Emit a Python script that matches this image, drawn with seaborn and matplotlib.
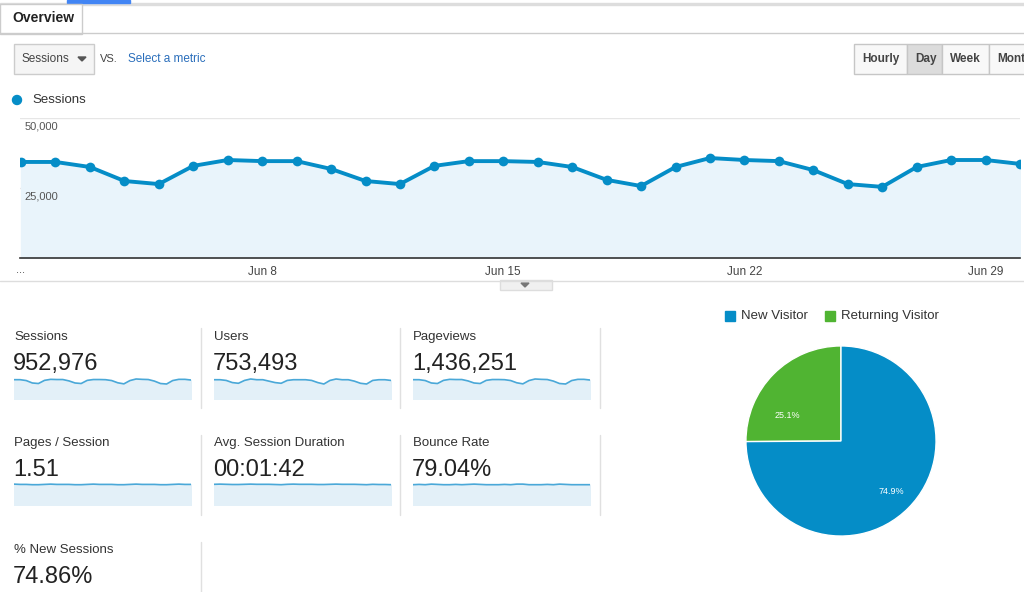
import matplotlib
matplotlib.use("Agg")
import matplotlib.pyplot as plt
import seaborn as sns
import numpy as np
import pandas as pd
from matplotlib.patches import Rectangle, Circle

sns.set_theme(style="white")
plt.rcParams['font.family'] = ['Liberation Sans', 'DejaVu Sans']

days = list(range(1, 31))
sessions = [34300, 34300, 32500, 27500, 26400, 32900, 35000, 34600, 34600, 31800,
            27500, 26400, 32900, 34600, 34600, 34300, 32500, 27900, 25700, 32500,
            35700, 35000, 34600, 31400, 26400, 25400, 32500, 35000, 35000, 33600]
tick_days = [8, 15, 22, 29]
tick_labels = ["Jun 8", "Jun 15", "Jun 22", "Jun 29"]
y_ticks = [25000, 50000]
y_labels = ["25,000", "50,000"]

metric_names = ["Sessions", "Users", "Pageviews", "Pages / Session",
                "Avg. Session Duration", "Bounce Rate", "% New Sessions"]
metric_values = ["952,976", "753,493", "1,436,251", "1.51", "00:01:42", "79.04%", "74.86%"]
spark_users = [26, 26, 25, 22, 21, 25, 27, 26, 26, 24, 22, 21, 25, 26, 26, 26, 25, 22, 20, 25,
               27, 26, 26, 24, 21, 20, 25, 26, 26, 25]
spark_pages = [1.52, 1.51, 1.51, 1.50, 1.50, 1.51, 1.52, 1.51, 1.51, 1.51, 1.50, 1.50, 1.51,
               1.52, 1.51, 1.51, 1.51, 1.50, 1.50, 1.51, 1.52, 1.51, 1.51, 1.51, 1.50, 1.50,
               1.51, 1.52, 1.51, 1.51]
spark_bounce = [79.0, 79.1, 79.0, 79.2, 79.1, 79.0, 79.0, 79.1, 79.0, 79.1, 79.2, 79.1, 79.0,
                79.0, 79.0, 79.1, 79.0, 79.2, 79.2, 79.0, 79.0, 79.0, 79.1, 79.0, 79.2, 79.1,
                79.0, 79.0, 79.0, 79.0]
spark_dur = [102, 103, 102, 101, 101, 102, 103, 102, 102, 102, 101, 100, 102, 103, 102, 102,
             102, 101, 101, 102, 103, 102, 102, 102, 101, 100, 102, 101, 101, 100]
visitor_labels = ["Returning Visitor", "New Visitor"]
visitor_share = [25.1, 74.9]

BLUE = "#058dc7"
GREEN = "#50b432"
W, H = 1024, 592
fig = plt.figure(figsize=(W/100, H/100), dpi=100)

def fx(x): return x / W
def fy(y): return 1 - y / H
def ax_px(x0, y0, x1, y1):
    return fig.add_axes([fx(x0), fy(y1), (x1 - x0)/W, (y1 - y0)/H])
def text(x, y, s, **kw):
    kw.setdefault("va", "center")
    fig.text(fx(x), fy(y), s, **kw)

# header
bg = fig.add_axes([0, 0, 1, 1]); bg.set_xlim(0, W); bg.set_ylim(H, 0); bg.axis("off")
bg.add_patch(Rectangle((0, 3), W, 1.5, color="#dddddd"))
bg.add_patch(Rectangle((67, 0), 63, 3, color="#4285f4"))
bg.add_patch(Rectangle((0, 4), 82, 30, facecolor="white", edgecolor="#cccccc", lw=1))
bg.plot([0, W], [33, 33], color="#cccccc", lw=1)
text(12, 18, "Overview", fontsize=10, weight="bold", color="#222222")
bg.add_patch(Rectangle((14, 44), 80, 30, facecolor="#f5f5f5", edgecolor="#cccccc", lw=1))
text(22, 59, "Sessions", fontsize=8.5, color="#444444")
bg.fill([78, 86, 82], [57, 57, 61], color="#555555")
text(100, 59, "VS.", fontsize=8, color="#444444")
text(128, 59, "Select a metric", fontsize=8.5, color="#2a6ebb")
btns = [("Hourly", 854, 907, "#f8f8f8"), ("Day", 907, 942, "#dcdcdc"),
        ("Week", 942, 989, "#f8f8f8"), ("Mont", 989, 1030, "#f8f8f8")]
for lab, a, b, c in btns:
    bg.add_patch(Rectangle((a, 44), b - a, 30, facecolor=c, edgecolor="#c6c6c6", lw=1))
    text(a + 8, 59, lab, fontsize=8.5, weight="bold", color="#444444")
bg.add_patch(Circle((17, 100), 4.5, color=BLUE))
text(32, 100, "Sessions", fontsize=9.5, color="#333333")
bg.plot([0, W], [281, 281], color="#dddddd", lw=1)
bg.add_patch(Rectangle((500, 280), 52, 10, facecolor="#f0f0f0", edgecolor="#dddddd", lw=1))
bg.fill([521, 529, 525], [283, 283, 287], color="#777777")

# main chart
ax = ax_px(20, 118, 1020, 258)
df = pd.DataFrame({"day": days, "sessions": sessions})
ax.fill_between(df["day"], df["sessions"], color="#e9f4fb")
sns.lineplot(data=df, x="day", y="sessions", ax=ax, color=BLUE, lw=2.8,
             marker="o", markersize=7, markeredgewidth=0)
ax.set_xlim(0.97, 30.0)
ax.set_ylim(0, 50000)
ax.set_yticks(y_ticks); ax.set_yticklabels([])
ax.grid(axis="y", color="#e6e6e6", lw=1)
ax.set_xticks(tick_days); ax.set_xticklabels(tick_labels, fontsize=8.5, color="#444444")
ax.tick_params(axis="x", length=0, pad=6)
ax.set_xlabel(""); ax.set_ylabel("")
for s in ["top", "right", "left"]:
    ax.spines[s].set_visible(False)
ax.spines["bottom"].set_color("#333333"); ax.spines["bottom"].set_linewidth(1.2)
for v, l in zip(y_ticks, y_labels):
    ax.text(1.1, v - 1200, l, fontsize=8, color="#555555", va="top")
text(16, 270, "...", fontsize=8, color="#444444")

# metrics
sparks = [sessions, spark_users, [s * 1.5 for s in sessions], spark_pages, spark_dur, spark_bounce, None]
flat = [False, False, False, True, True, True, False]
cols = [14, 214, 413]
rows = [337, 443, 550]
for i, (name, val) in enumerate(zip(metric_names, metric_values)):
    x = cols[i % 3]; y = rows[i // 3]
    text(x, y, name, fontsize=9.5, color="#333333")
    text(x - 1, y + 27, val, fontsize=17, color="#222222")
    if sparks[i] is not None:
        sa = ax_px(x, y + 40, x + 177, y + 62)
        data = sparks[i]
        lo, hi = min(data), max(data)
        rng = (hi - lo) * (12 if flat[i] else 1)
        base = lo - rng * 3
        sa.fill_between(days, data, base, color="#e3f0f8")
        sns.lineplot(x=days, y=data, ax=sa, color="#4aa8d8", lw=1.2)
        sa.set_ylim(base, hi + rng * 0.4 if not flat[i] else hi + (hi - lo) * 2)
        sa.set_xlim(1, 30); sa.axis("off")
for xs in [201, 400, 600]:
    for y0, y1 in [(328, 408), (435, 515)]:
        bg.plot([xs, xs], [y0, y1], color="#e0e0e0", lw=1)
bg.plot([201, 201], [542, 592], color="#e0e0e0", lw=1)

# pie
pa = ax_px(745, 345, 937, 537)
pa.pie(visitor_share, colors=[GREEN, BLUE], startangle=90, counterclock=True,
       wedgeprops=dict(edgecolor="white", linewidth=1))
pa.set_xlim(-1.01, 1.01); pa.set_ylim(-1.01, 1.01)
pa.set_aspect("equal")
text(787, 416, "25.1%", fontsize=6.5, color="white", ha="center")
text(891, 492, "74.9%", fontsize=6.5, color="white", ha="center")
bg.add_patch(Rectangle((725, 311), 10, 10, color=BLUE))
text(741, 316, "New Visitor", fontsize=9.5, color="#333333")
bg.add_patch(Rectangle((825, 311), 10, 10, color=GREEN))
text(841, 316, "Returning Visitor", fontsize=9.5, color="#333333")

fig.savefig("out.png", dpi=100)
